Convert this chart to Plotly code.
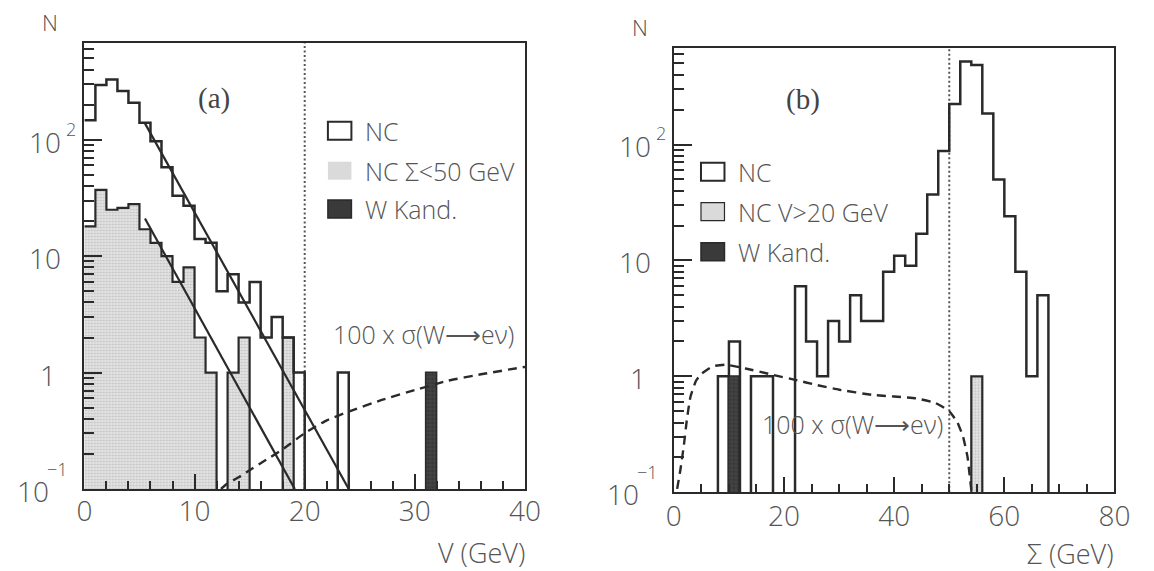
import numpy as np
import plotly.graph_objects as go

W, H = 1154, 571

# ------------------------------------------------------------------ data
# panel (a): V distribution, 1 GeV bins starting at 0 GeV
V_BIN0, V_BINW = 0.0, 1.0
nc_v = [147, 294, 329, 262, 207, 140, 97, 58, 33, 27,
        14, 13, 5, 7, 4, 6, 2, 3, 2, 1,
        0, 0, 0, 1, 0, 0, 0, 0, 0, 0,
        0, 0, 0, 0, 0, 0, 0, 0, 0, 0]
nc_v_sig_lt50 = [18, 37, 25, 26, 28, 17, 13, 10, 6, 8,
                 2, 1, 0, 1, 2, 0, 0, 0, 2, 0,
                 0, 0, 0, 0, 0, 0, 0, 0, 0, 0,
                 0, 0, 0, 0, 0, 0, 0, 0, 0, 0]
wkand_v = [0, 0, 0, 0, 0, 0, 0, 0, 0, 0,
           0, 0, 0, 0, 0, 0, 0, 0, 0, 0,
           0, 0, 0, 0, 0, 0, 0, 0, 0, 0,
           0, 1, 0, 0, 0, 0, 0, 0, 0, 0]
# exponential fits (straight lines on log scale): end points
fit_all_v = [5.5, 24.0]
fit_all_n = [138.0, 0.1]
fit_low_v = [5.5, 19.1]
fit_low_n = [21.0, 0.1]
# 100 x sigma(W -> e nu) vs V
sigw_v = [12.4, 13.0, 14.0, 15.0, 16.5, 18.0, 20.0, 22.0, 24.0, 27.0, 30.0, 33.0, 36.0, 40.0]
sigw_v_n = [0.100, 0.112, 0.126, 0.145, 0.178, 0.219, 0.302, 0.389, 0.462, 0.582, 0.708, 0.851, 0.966, 1.12]
v_cut = 20

# panel (b): Sigma distribution, 2 GeV bins starting at 0 GeV
S_BIN0, S_BINW = 0.0, 2.0
nc_s = [0, 0, 0, 0, 1, 2, 0, 1, 1, 0,
        0, 6, 2, 1, 3, 2, 5, 3, 3, 8,
        11, 9, 17, 37, 88, 224, 519, 486, 185, 50,
        24, 8, 1, 5, 0, 0, 0, 0, 0, 0]
nc_s_v_gt20 = [0, 0, 0, 0, 0, 0, 0, 0, 0, 0,
               0, 0, 0, 0, 0, 0, 0, 0, 0, 0,
               0, 0, 0, 0, 0, 0, 0, 1, 0, 0,
               0, 0, 0, 0, 0, 0, 0, 0, 0, 0]
wkand_s = [0, 0, 0, 0, 0, 1, 0, 0, 0, 0,
           0, 0, 0, 0, 0, 0, 0, 0, 0, 0,
           0, 0, 0, 0, 0, 0, 0, 0, 0, 0,
           0, 0, 0, 0, 0, 0, 0, 0, 0, 0]
sigw_s = [0.6, 1.2, 1.8, 2.4, 3.0, 4.0, 5.0, 7.0, 9.5, 13.0, 18.0, 22.0, 26.0, 30.0,
          36.0, 44.0, 47.5, 50.0, 51.5, 52.5, 53.3, 53.7, 54.0]
sigw_s_n = [0.107, 0.158, 0.251, 0.437, 0.661, 0.912, 1.05, 1.22, 1.26, 1.17, 1.03, 0.933,
            0.841, 0.767, 0.692, 0.646, 0.589, 0.501, 0.398, 0.302, 0.204, 0.141, 0.105]
sigma_cut = 50

legend_a = ["NC", "NC \u03a3<50 GeV", "W Kand."]
legend_b = ["NC", "NC V>20 GeV", "W Kand."]
xt_a = [0, 10, 20, 30, 40]
xt_b = [0, 20, 40, 60, 80]
xminor_a = [2, 4, 6, 8, 12, 14, 16, 18, 22, 24, 26, 28, 32, 34, 36, 38]
xminor_b = [5, 10, 15, 25, 30, 35, 45, 50, 55, 65, 70, 75]
yt_vals = [100, 10, 1, 0.1]
yt_base = ["10", "10", "1", "10"]
yt_exp = ["2", "", "", "\u22121"]
yminor = [0.2, 0.3, 0.4, 0.5, 0.6, 0.7, 0.8, 0.9, 2, 3, 4, 5, 6, 7, 8, 9,
          20, 30, 40, 50, 60, 70, 80, 90, 200, 300, 400, 500, 600]

# ------------------------------------------------------------------ style
INK = "#2a2a2a"
TXT = "#555555"
FONT = "Open Sans"
WT = 300
FLOOR = 0.03  # zero bins drawn below the axis floor (clipped)


def f(size, color=TXT, family=FONT, weight=WT):
    return dict(family=family, size=size, color=color, weight=weight)


def step(lo, w, vals):
    vals = np.asarray(vals, float)
    edges = lo + w * np.arange(len(vals) + 1)
    y = np.where(vals > 0, vals, FLOOR)
    return edges, np.append(y, y[-1])


def centers(lo, w, vals):
    vals = np.asarray(vals, float)
    c = lo + w * (np.arange(len(vals)) + 0.5)
    return c, [v if v > 0 else None for v in vals]


fig = go.Figure()

shade_marker = dict(color="#e4e4e4", pattern=dict(shape=".", fgcolor="#9c9c9c", size=3, solidity=0.35),
                    line=dict(width=0))
wk_marker = dict(color="#383838", pattern=dict(shape="+", fgcolor="#8a8a8a", size=4, solidity=0.15),
                 line=dict(color=INK, width=1.5))

for (lo, w, nc, sub, wk, fits, sx, sy, xa, ya) in [
    (V_BIN0, V_BINW, nc_v, nc_v_sig_lt50, wkand_v,
     [(fit_all_v, fit_all_n), (fit_low_v, fit_low_n)], sigw_v, sigw_v_n, "x", "y"),
    (S_BIN0, S_BINW, nc_s, nc_s_v_gt20, wkand_s, [], sigw_s, sigw_s_n, "x2", "y2"),
]:
    cx, cy = centers(lo, w, sub)
    fig.add_trace(go.Bar(x=cx, y=cy, width=w, marker=shade_marker, xaxis=xa, yaxis=ya, hoverinfo="skip"))
    cx, cy = centers(lo, w, wk)
    fig.add_trace(go.Bar(x=cx, y=cy, width=w, marker=wk_marker, xaxis=xa, yaxis=ya, hoverinfo="skip"))
    ex, ey = step(lo, w, sub)
    fig.add_trace(go.Scatter(x=ex, y=ey, mode="lines", line=dict(shape="hv", color=INK, width=2.2),
                             xaxis=xa, yaxis=ya))
    ex, ey = step(lo, w, nc)
    fig.add_trace(go.Scatter(x=ex, y=ey, mode="lines", line=dict(shape="hv", color=INK, width=2.5),
                             xaxis=xa, yaxis=ya))
    for fx, fy in fits:
        fig.add_trace(go.Scatter(x=fx, y=fy, mode="lines", line=dict(color=INK, width=2.2),
                                 xaxis=xa, yaxis=ya))
    fig.add_trace(go.Scatter(x=sx, y=sy, mode="lines",
                             line=dict(color=INK, width=2.4, dash="9px,6px", shape="spline", smoothing=0.4),
                             xaxis=xa, yaxis=ya))

# ------------------------------------------------------------------ axes
PAN = {"a": dict(x0=78, x1=528, y0=43, y1=489),
       "b": dict(x0=680, x1=1130, y0=47.7, y1=492.3)}


def xdom(p):
    return [p["x0"] / W, p["x1"] / W]


def ydom(p):
    return [1 - p["y1"] / H, 1 - p["y0"] / H]


common = dict(showline=True, mirror=True, linewidth=2, linecolor=INK, ticks="inside",
              tickwidth=2, tickcolor=INK, showgrid=False, zeroline=False)

fig.update_layout(
    xaxis=dict(domain=xdom(PAN["a"]), range=[0, 40], anchor="y", tickvals=xt_a, ticklen=15,
               minor=dict(tickvals=xminor_a, ticklen=8, ticks="inside", tickwidth=2, tickcolor=INK),
               tickfont=f(28), ticklabelstandoff=-4, **common),
    yaxis=dict(domain=ydom(PAN["a"]), type="log", range=[-1, 2.83], anchor="x", tickvals=yt_vals,
               ticklen=18, showticklabels=False,
               minor=dict(tickvals=yminor, ticklen=10, ticks="inside", tickwidth=2, tickcolor=INK),
               **common),
    xaxis2=dict(domain=xdom(PAN["b"]), range=[0, 80], anchor="y2", tickvals=xt_b, ticklen=15,
                minor=dict(tickvals=xminor_b, ticklen=8, ticks="inside", tickwidth=2, tickcolor=INK),
                tickfont=f(28), ticklabelstandoff=-2, **common),
    yaxis2=dict(domain=ydom(PAN["b"]), type="log", range=[-1, 2.835], anchor="x2", tickvals=yt_vals,
                ticklen=18, showticklabels=False,
                minor=dict(tickvals=yminor, ticklen=10, ticks="inside", tickwidth=2, tickcolor=INK),
                **common),
)

# cut lines
for xa, ya, xc in [("x", "y", v_cut), ("x2", "y2", sigma_cut)]:
    fig.add_shape(type="line", xref=xa, yref=ya + " domain", x0=xc, x1=xc, y0=0, y1=1,
                  line=dict(color="#555555", width=2, dash="2px,2.5px"), layer="below")

ann = []
# y tick labels (PAW style)
base_shift = [-23, -23, -28, -35]
exp_shift = [-18, 0, 0, -37]
exp_up = [11, 0, 0, 20]
for ya, xa in [("y", "x"), ("y2", "x2")]:
    for v, b, e, bs, es, eu in zip(yt_vals, yt_base, yt_exp, base_shift, exp_shift, exp_up):
        ann.append(dict(text=b, xref=xa + " domain", yref=ya, x=0, y=np.log10(v), xanchor="right",
                        yanchor="middle", xshift=bs, yshift=-2, showarrow=False, font=f(28),
                        borderpad=0, borderwidth=0))
        if e:
            ann.append(dict(text=e, xref=xa + " domain", yref=ya, x=0, y=np.log10(v), xanchor="left",
                            yanchor="middle", xshift=es, yshift=eu, showarrow=False, font=f(18),
                            borderpad=0, borderwidth=0))

# axis titles
for xa, p, ttl, ny in [("x", PAN["a"], "V (GeV)", 552), ("x2", PAN["b"], "\u03a3 (GeV)", 553)]:
    ann.append(dict(text=ttl, xref="paper", yref="paper", x=(p["x1"] + 1) / W, y=1 - ny / H, xanchor="right",
                    yanchor="middle", showarrow=False, font=f(27), borderpad=0))
    ann.append(dict(text="N", xref="paper", yref="paper", x=(p["x0"] - 35) / W, y=1 - (p["y0"] - 21) / H,
                    xanchor="center", yanchor="middle", showarrow=False, font=f(22, "#505050")))

# panel labels
ann.append(dict(text="(a)", xref="x", yref="y", x=11.8, y=2.356, showarrow=False,
                font=f(29, "#444", "Liberation Serif", 400)))
ann.append(dict(text="(b)", xref="x2", yref="y2", x=23.5, y=2.384, showarrow=False,
                font=f(29, "#444", "Liberation Serif", 400)))
sig_txt = "100 x \u03c3(W\u27f6e\u03bd)"
ann.append(dict(text=sig_txt, xref="x", yref="y", x=30.8, y=0.33, showarrow=False, font=f(25)))
ann.append(dict(text=sig_txt, xref="x2", yref="y2", x=32.4, y=-0.408, showarrow=False, font=f(25)))

# legends (boxes + text), positions in pixels
shapes = []
for labels, bx0, ys, tx, shade_border in [
    (legend_a, 326.7, [121.7, 161.7, 200.0], 362.7, False),
    (legend_b, 707.7, [162.7, 202.7, 242.7], 743.0, True),
]:
    fills = ["white", "#dadada", "#3a3a3a"]
    borders = [2, 1.2 if shade_border else 0, 1.5]
    for lab, y0, fc, bw in zip(labels, ys, fills, borders):
        shapes.append(dict(type="rect", xref="paper", yref="paper", x0=bx0 / W, x1=(bx0 + 24) / W,
                           y0=1 - (y0 + 18) / H, y1=1 - y0 / H, fillcolor=fc,
                           line=dict(color=INK if bw else fc, width=bw if bw else 0)))
        ann.append(dict(text=lab, xref="paper", yref="paper", x=tx / W, y=1 - (y0 + 9) / H,
                        xanchor="left", yanchor="middle", showarrow=False, font=f(25)))

for s in shapes:
    fig.add_shape(**s)

fig.update_layout(
    width=W, height=H, margin=dict(l=0, r=0, t=0, b=0),
    plot_bgcolor="white", paper_bgcolor="white",
    barmode="overlay", bargap=0, showlegend=False,
    annotations=ann,
    font=dict(family=FONT, color=TXT),
)

fig.write_html("out.html", config={"displayModeBar": False},
               post_script="document.body.style.margin='0';document.body.style.overflow='hidden';")
